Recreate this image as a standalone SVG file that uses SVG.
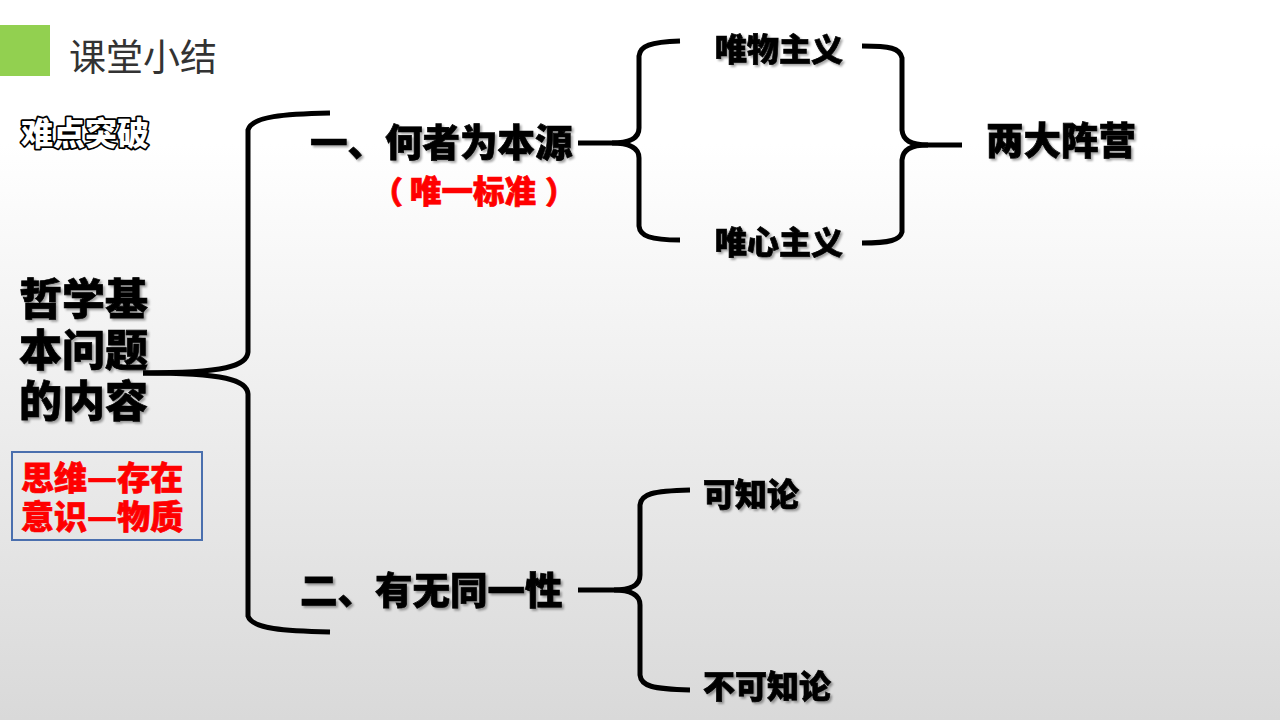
<svg xmlns="http://www.w3.org/2000/svg" width="1280" height="720" viewBox="0 0 1280 720">
  <defs>
    <linearGradient id="bg" x1="0" y1="0" x2="0" y2="1">
      <stop offset="0" stop-color="#ffffff"/>
      <stop offset="0.2" stop-color="#ffffff"/>
      <stop offset="1" stop-color="#d9d9d9"/>
    </linearGradient>
    <filter id="sh" x="-10%" y="-20%" width="130%" height="150%">
      <feDropShadow dx="2" dy="2" stdDeviation="1.2" flood-color="#000" flood-opacity="0.35"/>
    </filter>
    <style>
      .t { font-family: "Noto Sans CJK SC", "Noto Sans", sans-serif; font-weight: 900; fill: #000; stroke: #000; stroke-width: 0.7; }
      .red { fill: #ff0000; stroke: #ff0000; }
      .brace { fill: none; stroke: #000; stroke-width: 5; }
    </style>
  </defs>
  <rect width="1280" height="720" fill="url(#bg)"/>

  <g id="header">
    <rect x="0" y="25" width="50" height="51" fill="#92d050"/>
    <text x="69" y="71" font-family="Noto Sans CJK SC, sans-serif" font-size="37" fill="#333333">课堂小结</text>
  </g>

  <g id="difficulty">
    <text x="21" y="145" font-family="Noto Sans CJK SC, sans-serif" font-weight="900" font-size="32" fill="#ffffff" stroke="#000" stroke-width="3.5" stroke-linejoin="round" paint-order="stroke">难点突破</text>
  </g>

  <g id="root">
    <text class="t" font-size="43" filter="url(#sh)">
      <tspan x="19" y="315">哲学基</tspan>
      <tspan x="19" y="366">本问题</tspan>
      <tspan x="19" y="417">的内容</tspan>
    </text>
  </g>

  <g id="note">
    <rect x="12" y="452" width="190" height="88" fill="none" stroke="#4a6fae" stroke-width="2"/>
    <text class="t red" font-size="33">
      <tspan x="21" y="490">思维—存在</tspan>
      <tspan x="21" y="529">意识—物质</tspan>
    </text>
  </g>

  <g id="q1">
    <text x="310" y="156" class="t" font-size="37.5" filter="url(#sh)">一、何者为本源</text>
    <text x="372" y="203" class="t red" font-size="31">（</text>
    <text x="410" y="203" class="t red" font-size="31.5">唯一标准</text>
    <text x="545" y="203" class="t red" font-size="31">）</text>
  </g>

  <g id="q2">
    <text x="300" y="604" class="t" font-size="37.5" filter="url(#sh)">二、有无同一性</text>
  </g>

  <g id="materialism">
    <text x="715" y="61" class="t" font-size="32" filter="url(#sh)">唯物主义</text>
  </g>
  <g id="idealism">
    <text x="715" y="254" class="t" font-size="32" filter="url(#sh)">唯心主义</text>
  </g>
  <g id="camps">
    <text x="986" y="154" class="t" font-size="37.5" filter="url(#sh)">两大阵营</text>
  </g>
  <g id="knowable">
    <text x="703" y="506" class="t" font-size="32" filter="url(#sh)">可知论</text>
  </g>
  <g id="unknowable">
    <text x="703" y="698" class="t" font-size="32" filter="url(#sh)">不可知论</text>
  </g>

  <g id="connectors">
    <path class="brace" d="M330,113 C285,114 252,116 248,130 L248,352 C247,366 225,373 143,373"/>
    <path class="brace" d="M143,373 C225,373 247,380 248,394 L248,616 C252,629 285,631 330,632"/>
    <path class="brace" d="M578,143 L612,143 C630,143 639,138 639,128 L639,56 C640,46 650,42 680,41"/>
    <path class="brace" d="M612,143 C630,143 639,148 639,158 L639,226 C640,236 650,240 680,240"/>
    <path class="brace" d="M862,46 C890,46 900,48 902,58 L902,130 C903,140 910,145 928,145 L962,145"/>
    <path class="brace" d="M928,145 C910,145 903,150 902,160 L902,232 C900,240 890,243 862,243"/>
    <path class="brace" d="M578,590 L614,590 C632,590 640,585 640,575 L640,505 C641,494 652,491 690,490"/>
    <path class="brace" d="M614,590 C632,590 640,595 640,605 L640,675 C641,686 652,689 690,690"/>
  </g>
</svg>
